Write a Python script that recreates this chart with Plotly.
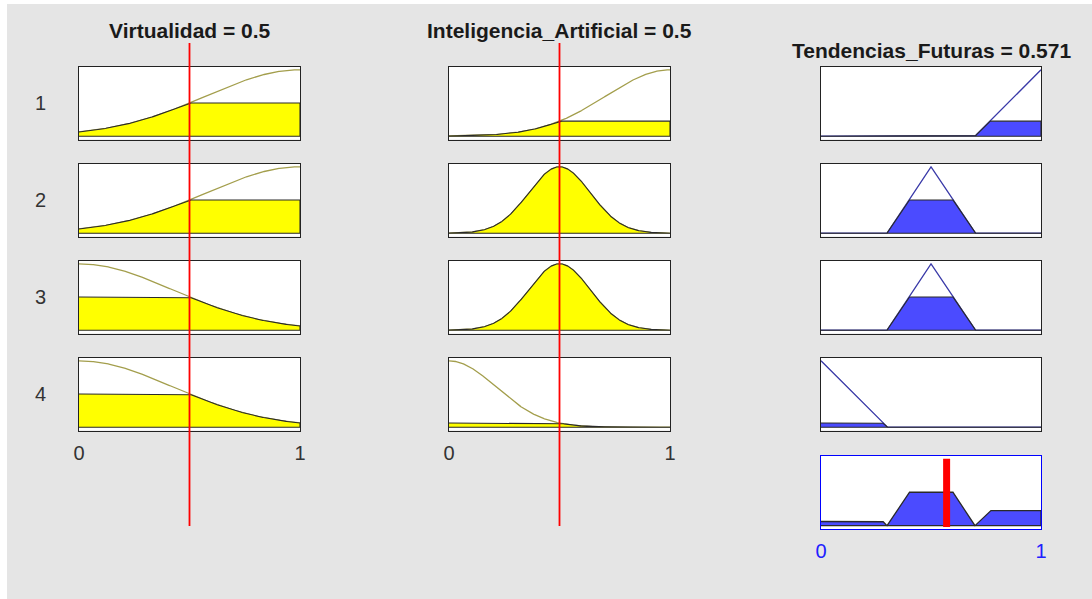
import numpy as np
import plotly.graph_objects as go

W, H = 1092, 599

# ---- fuzzy system description ----
input_names = ["Virtualidad", "Inteligencia_Artificial"]
input_values = [0.5, 0.5]
output_name = "Tendencias_Futuras"
output_value = 0.571
rule_labels = ["1", "2", "3", "4"]

# gaussmf parameters (sigma, center) used by each rule
virt_sigma = [0.4247, 0.4247, 0.4247, 0.4247]
virt_center = [1.0, 1.0, 0.0, 0.0]
ia_sigma = [0.29, 0.14, 0.14, 0.2123]
ia_center = [1.0, 0.5, 0.5, 0.0]

# trimf parameters (a, b, c) of the consequent of each rule
out_a = [0.7, 0.3, 0.3, -0.3]
out_b = [1.0, 0.5, 0.5, 0.0]
out_c = [1.3, 0.7, 0.7, 0.3]

x_ticks = [0, 1]
x_tick_text = ["0", "1"]

# ---- styling ----
BG = "#e5e5e5"
IN_LINE = "#a39e4c"
IN_FILL = "#ffff00"
OUT_LINE = "#3a3aa8"
OUT_FILL = "#4b4bff"
EDGE = "#2a2a2a"
FONT = "Liberation Sans"

col_px = [(79, 300), (449, 670), (821, 1041)]
row_top_px = [66.5, 163.5, 260.5, 357.5]
row_h = 73
agg_px = (455.5, 529)


def gaussmf(x, s, c):
    return np.exp(-((x - c) ** 2) / (2 * s ** 2))


def trimf(x, a, b, c):
    left = np.where(b > a, (x - a) / (b - a + 1e-12), 1.0)
    right = np.where(c > b, (c - x) / (c - b + 1e-12), 1.0)
    return np.clip(np.minimum(left, right), 0, 1)


xs = np.linspace(0, 1, 401)

fig = go.Figure()
layout = {}


def axis_names(k):
    return ("xaxis" if k == 1 else f"xaxis{k}", "yaxis" if k == 1 else f"yaxis{k}",
            "x" if k == 1 else f"x{k}", "y" if k == 1 else f"y{k}")


def make_axes(k, xpx, ypx, line_color="#222222", ticks=False, tick_color="#333333"):
    xa, ya, xr, yr = axis_names(k)
    layout[xa] = dict(
        domain=[xpx[0] / W, xpx[1] / W], range=[0, 1], anchor=yr,
        showgrid=False, zeroline=False, showline=True, mirror=True,
        linecolor=line_color, linewidth=1.3, automargin=False,
        showticklabels=ticks, tickvals=x_ticks, ticktext=x_tick_text,
        ticks="", tickfont=dict(family=FONT, size=20, color=tick_color),
        ticklabelstandoff=4,
    )
    layout[ya] = dict(
        domain=[1 - ypx[1] / H, 1 - ypx[0] / H], range=[-0.05, 1.05], anchor=xr,
        showgrid=False, zeroline=False, showline=True, mirror=True, automargin=False,
        linecolor=line_color, linewidth=1.3, showticklabels=False, ticks="",
    )
    return xr, yr


def add_clipped(xr, yr, mf, level, line_color, fill_color):
    fig.add_trace(go.Scatter(x=xs, y=mf, xaxis=xr, yaxis=yr, mode="lines",
                             line=dict(color=line_color, width=1.3),
                             hoverinfo="skip", showlegend=False))
    clipped = np.minimum(mf, level)
    px = np.concatenate([xs, [1, 0]])
    py = np.concatenate([clipped, [0, 0]])
    fig.add_trace(go.Scatter(x=px, y=py, xaxis=xr, yaxis=yr, mode="lines",
                             fill="toself", fillcolor=fill_color,
                             line=dict(color=EDGE, width=1.1),
                             hoverinfo="skip", showlegend=False))


aggregate = np.zeros_like(xs)
k = 1
for r in range(4):
    ypx = (row_top_px[r], row_top_px[r] + row_h)
    mu_v = gaussmf(np.array(input_values[0]), virt_sigma[r], virt_center[r])
    mu_i = gaussmf(np.array(input_values[1]), ia_sigma[r], ia_center[r])
    w = float(min(mu_v, mu_i))

    # Virtualidad
    xr, yr = make_axes(k, col_px[0], ypx, ticks=(r == 3))
    add_clipped(xr, yr, gaussmf(xs, virt_sigma[r], virt_center[r]), float(mu_v), IN_LINE, IN_FILL)
    k += 1
    # Inteligencia_Artificial
    xr, yr = make_axes(k, col_px[1], ypx, ticks=(r == 3))
    add_clipped(xr, yr, gaussmf(xs, ia_sigma[r], ia_center[r]), float(mu_i), IN_LINE, IN_FILL)
    k += 1
    # consequent
    xr, yr = make_axes(k, col_px[2], ypx)
    out_mf = trimf(xs, out_a[r], out_b[r], out_c[r])
    add_clipped(xr, yr, out_mf, w, OUT_LINE, OUT_FILL)
    aggregate = np.maximum(aggregate, np.minimum(out_mf, w))
    k += 1

# aggregated output
xr, yr = make_axes(k, col_px[2], agg_px, line_color="#0000ff", ticks=True, tick_color="#2020ff")
fig.add_trace(go.Scatter(x=np.concatenate([xs, [1, 0]]), y=np.concatenate([aggregate, [0, 0]]),
                         xaxis=xr, yaxis=yr, mode="lines", fill="toself", fillcolor=OUT_FILL,
                         line=dict(color=EDGE, width=1.3), hoverinfo="skip", showlegend=False))
fig.add_trace(go.Scatter(x=[output_value, output_value], y=[-0.02, 1.0], xaxis=xr, yaxis=yr,
                         mode="lines", line=dict(color="#ff0000", width=7),
                         hoverinfo="skip", showlegend=False))

# white frame strips at the left and top edges of the window
shapes = [
    dict(type="rect", xref="paper", yref="paper", x0=0, x1=7 / W, y0=0, y1=1,
         fillcolor="#ffffff", line=dict(width=0), layer="below"),
    dict(type="rect", xref="paper", yref="paper", x0=0, x1=1, y0=1 - 4 / H, y1=1,
         fillcolor="#ffffff", line=dict(width=0), layer="below"),
]
# input value markers crossing all rule rows
for ci, xa_name in enumerate(["x10", "x11"]):
    shapes.append(dict(type="line", xref=xa_name, yref="paper",
                       x0=input_values[ci], x1=input_values[ci],
                       y0=1 - 526 / H, y1=1 - 43 / H,
                       line=dict(color="#ff0000", width=1.8), layer="above"))

annotations = []
titles = [f"{input_names[0]} = {input_values[0]:g}",
          f"{input_names[1]} = {input_values[1]:g}",
          f"{output_name} = {output_value:g}"]
title_y = [30, 30, 50]
for ci in range(3):
    annotations.append(dict(text=f"<b>{titles[ci]}</b>", xref="paper", yref="paper",
                            x=(col_px[ci][0] + col_px[ci][1]) / 2 / W, y=1 - title_y[ci] / H,
                            showarrow=False, xanchor="center", yanchor="middle",
                            font=dict(family=FONT, size=21, color="#1a1a1a")))
for r in range(4):
    annotations.append(dict(text=rule_labels[r], xref="paper", yref="paper",
                            x=40 / W, y=1 - (row_top_px[r] + row_h / 2) / H,
                            showarrow=False, xanchor="center", yanchor="middle",
                            font=dict(family=FONT, size=20, color="#333333")))

fig.update_layout(
    width=W, height=H, margin=dict(l=0, r=0, t=0, b=0),
    paper_bgcolor=BG, plot_bgcolor="#ffffff",
    shapes=shapes, annotations=annotations, showlegend=False,
    **layout,
)

fig.write_html("out.html")
